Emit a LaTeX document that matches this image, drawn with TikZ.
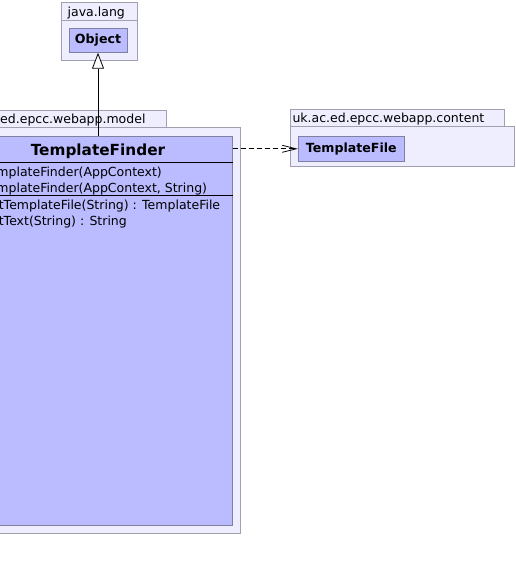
\documentclass[tikz,border=0pt]{standalone}
\usepackage{fontspec}
\setmainfont{DejaVu Sans}
\usetikzlibrary{arrows.meta}

\definecolor{pkgfill}{RGB}{238,238,255}
\definecolor{pkgline}{RGB}{160,160,176}
\definecolor{clsfill}{RGB}{187,187,255}
\definecolor{clsline}{RGB}{128,128,160}

\tikzset{
  pkg/.style={fill=pkgfill, draw=pkgline, line width=0.8pt},
  pkglabel/.style={anchor=base west, inner sep=0pt, font=\fontsize{12.5}{14}\selectfont},
  cls/.style={fill=clsfill, draw=clsline, line width=0.8pt, inner sep=0pt},
  clsname/.style={font=\fontsize{12.6}{14}\selectfont\bfseries},
  member/.style={anchor=base west, inner sep=0pt, font=\fontsize{12.5}{14}\selectfont},
  link/.style={line width=0.8pt},
}

\begin{document}
\begin{tikzpicture}[x=1pt, y=-1pt]
\useasboundingbox (0,0) rectangle (516,571);
\clip (0,0) rectangle (516,571);

\filldraw[pkg] (61,2) rectangle (137,20);
\filldraw[pkg] (61,20) rectangle (137,60);
\node[pkglabel] (langlabel) at (67.5,16.5) {java.lang};
\node[cls, clsname, minimum width=58, minimum height=24] (object) at (98,40.3) {Object};

\filldraw[pkg] (-41,110) rectangle (166,127);
\filldraw[pkg] (-41,127) rectangle (240.3,533.3);
\node[pkglabel] (modellabel) at (-37.6,123.3) {uk.ac.ed.epcc.webapp.model};
\node[cls, minimum width=268.3, minimum height=389.3] (finder) at (98,330.7) {};
\node[anchor=base, inner sep=0pt, font=\fontsize{15.3}{18}\selectfont\bfseries] (findertitle) at (98,155.3) {TemplateFinder};
\draw[link] (finder.west |- 0,162.7) -- (finder.east |- 0,162.7);
\draw[link] (finder.west |- 0,195.3) -- (finder.east |- 0,195.3);
\node[member] (ctor1) at (-17,176.5) {TemplateFinder(AppContext)};
\node[member] (ctor2) at (-17,192.3) {TemplateFinder(AppContext, String)};
\node[member] (meth1) at (-17,209) {getTemplateFile(String) : TemplateFile};
\node[member] (meth2) at (-17,225) {getText(String) : String};

\filldraw[pkg] (290,109.3) rectangle (504,126);
\filldraw[pkg] (290,126) rectangle (514.5,166.7);
\node[pkglabel] (contentlabel) at (292.3,122.7) {uk.ac.ed.epcc.webapp.content};
\node[cls, clsname, minimum width=106, minimum height=25.7] (tfile) at (351.3,148.8) {TemplateFile};

\draw[link, -{Triangle[open, fill=white, length=16pt, width=12pt]}] (finder.north) -- (object.south);
\draw[link, dash pattern=on 5pt off 3pt, -{Straight Barb[length=14pt, width=7pt]}] (finder.east |- tfile.west) -- (tfile.west);
\end{tikzpicture}
\end{document}
